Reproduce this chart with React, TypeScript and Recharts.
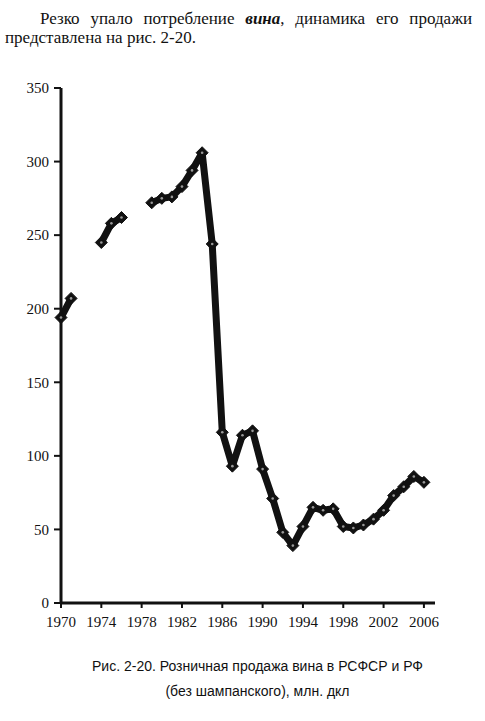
import React from "react";
import { LineChart, Line, XAxis, YAxis } from "recharts";

const years = [
	1970, 1971, 1972, 1973, 1974, 1975, 1976, 1977, 1978, 1979, 1980, 1981,
	1982, 1983, 1984, 1985, 1986, 1987, 1988, 1989, 1990, 1991, 1992, 1993,
	1994, 1995, 1996, 1997, 1998, 1999, 2000, 2001, 2002, 2003, 2004, 2005,
	2006,
];
// null = нет данных (разрывы на графике)
const sales: (number | null)[] = [
	194, 207, null, null, 245, 258, 262, null, null, 272, 275, 276, 283, 294,
	306, 244, 116, 93, 114, 117, 91, 71, 48, 39, 52, 65, 63, 64, 52, 51, 53,
	57, 63, 73, 79, 86, 82,
];
const xTicks = [1970, 1974, 1978, 1982, 1986, 1990, 1994, 1998, 2002, 2006];
const yTicks = [0, 50, 100, 150, 200, 250, 300, 350];

const data = years.map((year, i) => ({ year, sales: sales[i] }));

const serif = "Liberation Serif, Times New Roman, serif";
const sans = "Liberation Sans, Arial, sans-serif";

const Diamond = (props: any) => {
	const { cx, cy, value, index } = props;
	if (value == null || cx == null || cy == null) return <g key={index} />;
	const r = 6;
	return (
		<g key={index}>
			<polygon
				points={`${cx},${cy - r} ${cx + r},${cy} ${cx},${cy + r} ${cx - r},${cy}`}
				fill="#111"
				stroke="#111"
				strokeWidth={1}
			/>
			<circle cx={cx} cy={cy} r={1.3} fill="#999" />
		</g>
	);
};

export default function App() {
	return (
		<div
			style={{
				position: "absolute",
				left: 0,
				top: 0,
				width: 485,
				height: 721,
				background: "#fff",
				overflow: "hidden",
			}}
		>
			<div
				style={{
					position: "absolute",
					left: 5,
					top: 9,
					width: 467,
					fontFamily: serif,
					fontSize: 17,
					lineHeight: "19px",
					color: "#111",
				}}
			>
				<div style={{ paddingLeft: 35, textAlignLast: "justify", textAlign: "justify" }}>
					Резко упало потребление{" "}
					<span style={{ fontWeight: "bold", fontStyle: "italic" }}>вина</span>
					, динамика его продажи
				</div>
				<div>представлена на рис. 2-20.</div>
			</div>

			<div
				style={{ position: "absolute", left: 0, top: 0, fontFamily: serif }}
			>
				<LineChart
					width={485}
					height={640}
					data={data}
					margin={{ top: 88, right: 50, left: 21, bottom: 7 }}
					style={{ fontFamily: serif }}
				>
					<XAxis
						dataKey="year"
						type="number"
						domain={[1970, 2007.1]}
						ticks={xTicks}
						interval={0}
						height={30}
						axisLine={{ stroke: "#111", strokeWidth: 3 }}
						tickLine={{ stroke: "#111", strokeWidth: 2 }}
						tickSize={5}
						tickMargin={8}
						tick={{ fill: "#111", fontSize: 15, fontFamily: serif }}
					/>
					<YAxis
						domain={[0, 350]}
						ticks={yTicks}
						interval={0}
						width={40}
						axisLine={{ stroke: "#111", strokeWidth: 3 }}
						tickLine={{ stroke: "#111", strokeWidth: 2 }}
						tickSize={7}
						tickMargin={5}
						tick={{ fill: "#111", fontSize: 15, fontFamily: serif }}
					/>
					<Line
						dataKey="sales"
						stroke="#111"
						strokeWidth={7}
						strokeLinejoin="round"
						connectNulls={false}
						dot={Diamond}
						activeDot={false}
						isAnimationActive={false}
					/>
				</LineChart>
			</div>

			<div
				style={{
					position: "absolute",
					left: 0,
					top: 654,
					width: 515,
					textAlign: "center",
					fontFamily: sans,
					fontSize: 14,
					lineHeight: "25px",
					color: "#111",
				}}
			>
				Рис. 2-20. Розничная продажа вина в РСФСР и РФ
				<br />
				(без шампанского), млн. дкл
			</div>
		</div>
	);
}
